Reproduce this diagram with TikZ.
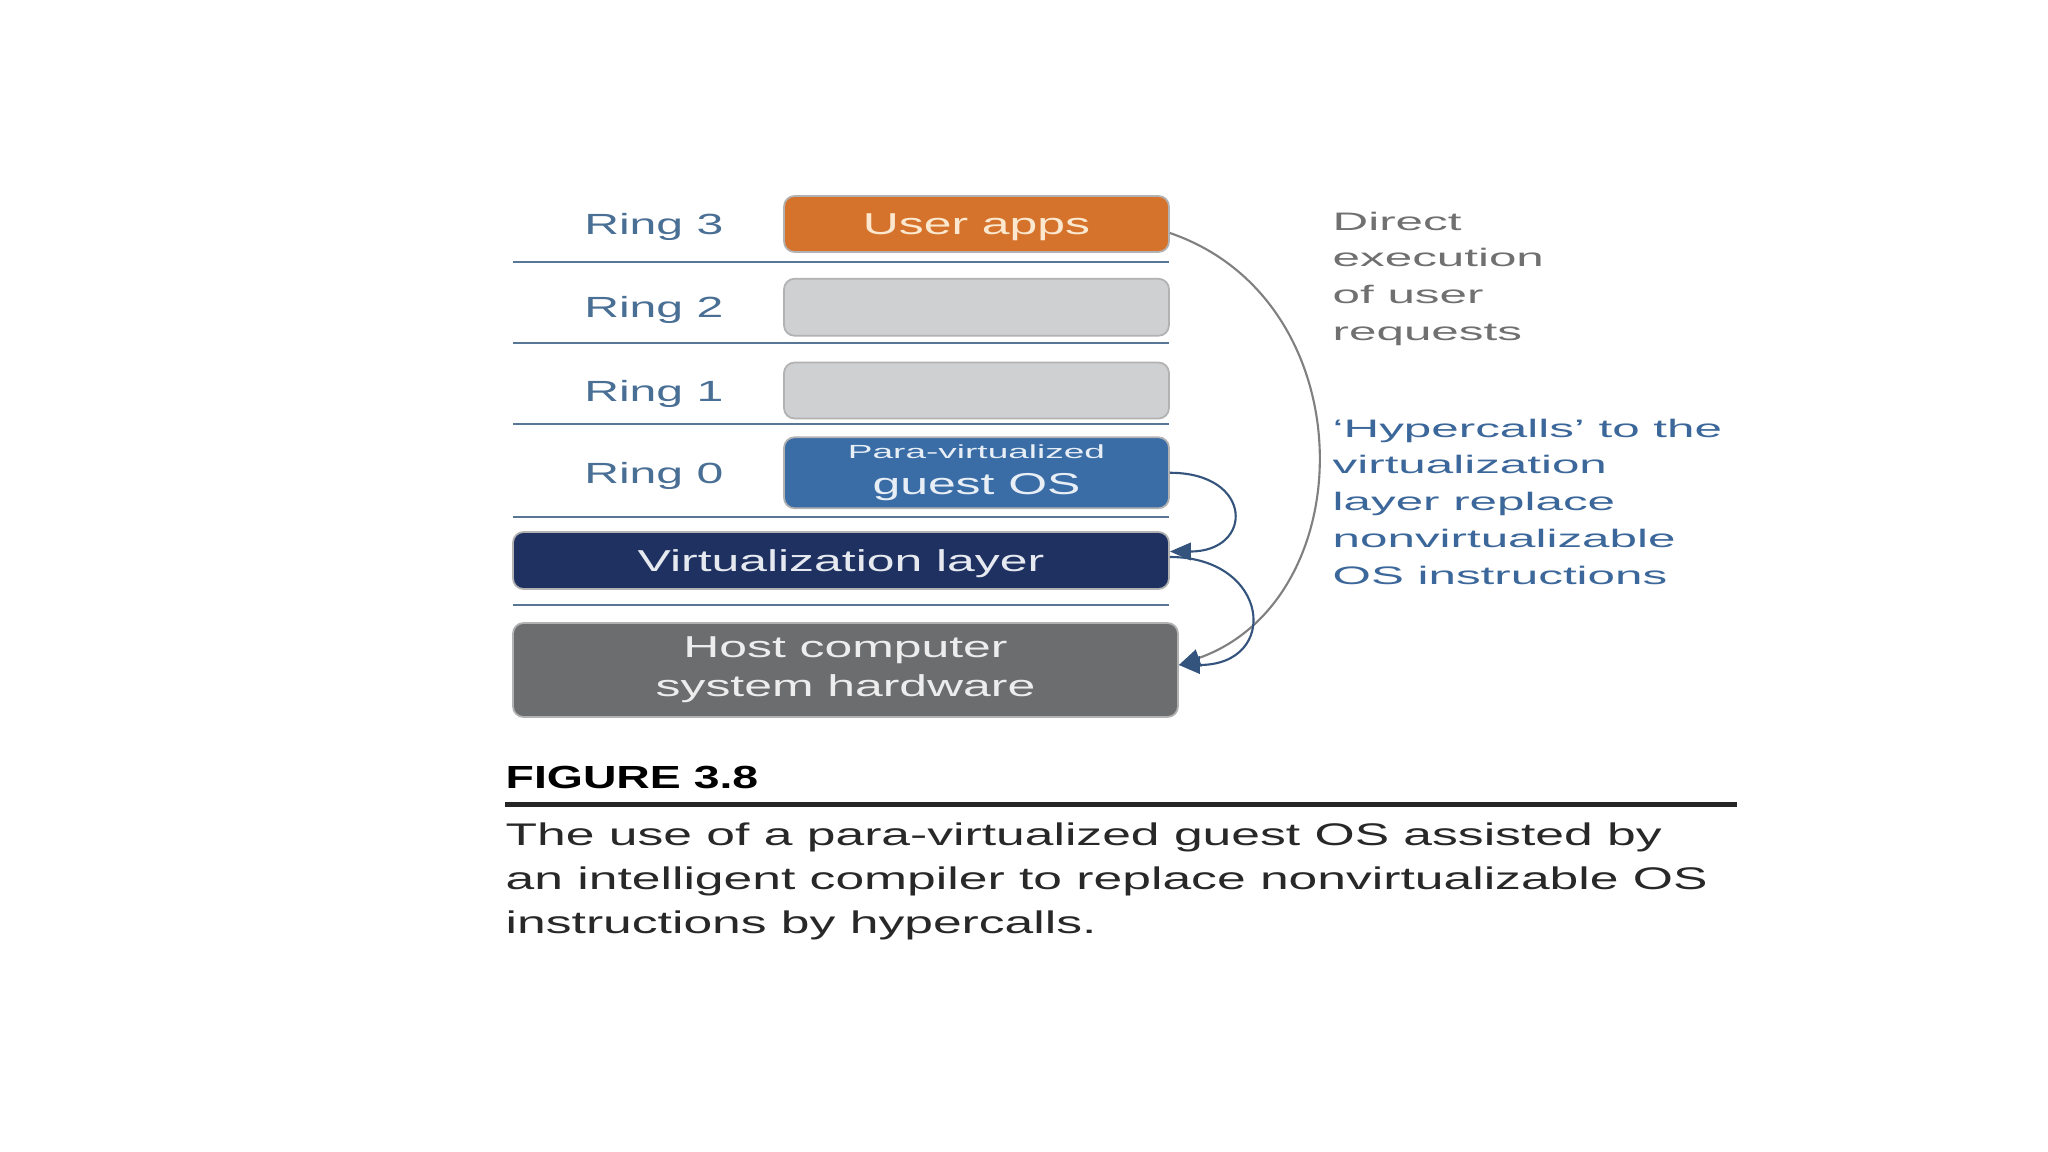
\documentclass[tikz,border=0pt]{standalone}
\usepackage{fontspec}
\setmainfont{Liberation Sans}
\newfontfamily\boxsans[FakeStretch=1.65]{Liberation Sans}
\newfontfamily\notesans[FakeStretch=1.95]{Liberation Sans}
\newfontfamily\figsans[FakeStretch=1.45]{Liberation Sans}
\usetikzlibrary{arrows.meta,positioning}

\definecolor{appsorange}{RGB}{213,115,45}
\definecolor{ringgray}{RGB}{206,208,209}
\definecolor{guestblue}{RGB}{58,109,166}
\definecolor{virtnavy}{RGB}{30,49,96}
\definecolor{hostgray}{RGB}{108,109,111}
\definecolor{ringblue}{RGB}{74,111,149}
\definecolor{sepblue}{RGB}{88,118,150}
\definecolor{notegray}{RGB}{112,112,112}
\definecolor{noteblue}{RGB}{60,103,154}
\definecolor{hyperblue}{RGB}{52,84,125}
\definecolor{directgray}{RGB}{128,128,128}
\definecolor{captext}{RGB}{40,40,40}

\begin{document}
\begin{tikzpicture}[
  ringbox/.style={draw=black!30, line width=0.5pt, rounded corners=3pt, inner sep=0pt,
                  minimum width=3.85cm, minimum height=0.56cm, align=center},
  ringlabel/.style={font=\boxsans\fontsize{8.3}{10}\selectfont, text=ringblue, inner sep=0pt, text depth=0pt},
  boxtext/.style={font=\boxsans\fontsize{8.6}{11.1}\selectfont},
  flattext/.style={text depth=0pt},
  sepline/.style={draw=sepblue, line width=0.7pt},
  note/.style={font=\notesans\fontsize{7.2}{10.5}\selectfont, align=left, inner sep=0pt, anchor=north west},
  hyper/.style={draw=hyperblue, line width=0.6pt, -{Triangle[length=6pt,width=5pt,color=hyperblue]}},
  direct/.style={draw=directgray, line width=0.6pt, -{Triangle[length=6pt,width=5pt,color=hyperblue]}},
  node distance=2.5mm
]
\fill[white] (0,0) rectangle (20.48,-11.52);

% protection rings
\node[ringbox, fill=appsorange, boxtext, flattext, text={rgb,255:red,251;green,232;blue,207}] (apps) at (9.765,-2.24) {User apps};
\node[ringbox, fill=ringgray, below=of apps, minimum height=0.57cm] (ring2) {};
\node[ringbox, fill=ringgray, below=of ring2] (ring1) {};
\node[ringbox, fill=guestblue, below=1.7mm of ring1, minimum height=0.71cm, boxtext, text={rgb,255:red,232;green,238;blue,246}] (guest)
  {{\notesans\fontsize{5.4}{6.5}\selectfont Para-virtualized}\\[-0.6pt]guest OS};

\node[ringlabel, left=5.9mm of apps] (lbl3) {Ring 3};
\node[ringlabel, left=5.9mm of ring2] (lbl2) {Ring 2};
\node[ringlabel, left=5.9mm of ring1] (lbl1) {Ring 1};
\node[ringlabel, left=5.9mm of guest] (lbl0) {Ring 0};

% lower layers
\node[ringbox, fill=virtnavy, minimum width=6.56cm, minimum height=0.57cm, boxtext, flattext,
      text={rgb,255:red,230;green,234;blue,240}] (virt) at (8.41,-5.605) {Virtualization layer};
\node[ringbox, fill=hostgray, minimum width=6.65cm, minimum height=0.94cm, boxtext,
      text={rgb,255:red,237;green,237;blue,237}] (host) at (8.455,-6.70) {Host computer\\system hardware};

\foreach \y in {2.62,3.43,4.24,5.17,6.05}
  \draw[sepline] (5.13,-\y) -- (11.69,-\y);

% notes
\node[note, text=notegray] (directnote) at (13.32,-2.11) {Direct\\execution\\of user\\requests};
\node[note, text=noteblue] (hypernote) at (13.32,-4.18)
  {‘Hypercalls’ to the\\virtualization\\layer replace\\nonvirtualizable\\OS instructions};

% calls
\draw[direct] ([yshift=-0.9mm]apps.east) .. controls +(1.96,-0.67) and +(1.85,0.65) .. ([yshift=0.5mm]host.east);
\draw[hyper] (guest.east) .. controls +(0.84,0) and +(0.84,0) .. ([yshift=0.9mm]virt.east);
\draw[hyper] ([yshift=0.35mm]virt.east) .. controls +(1.0,0) and +(1.02,0) .. ([yshift=0.5mm]host.east);

% caption
\node[anchor=north west, inner sep=0pt, font=\figsans\bfseries\fontsize{9.1}{11}\selectfont] (figlabel) at (5.05,-7.65) {FIGURE 3.8};
\draw[line width=1.4pt, black!85] (5.05,-8.045) -- (17.37,-8.045);
\node[anchor=north west, inner sep=0pt, align=left, text=captext, font=\boxsans\fontsize{8.9}{12.6}\selectfont] (caption) at (5.05,-8.22)
  {The use of a para-virtualized guest OS assisted by\\an intelligent compiler to replace nonvirtualizable OS\\instructions by hypercalls.};
\end{tikzpicture}
\end{document}
